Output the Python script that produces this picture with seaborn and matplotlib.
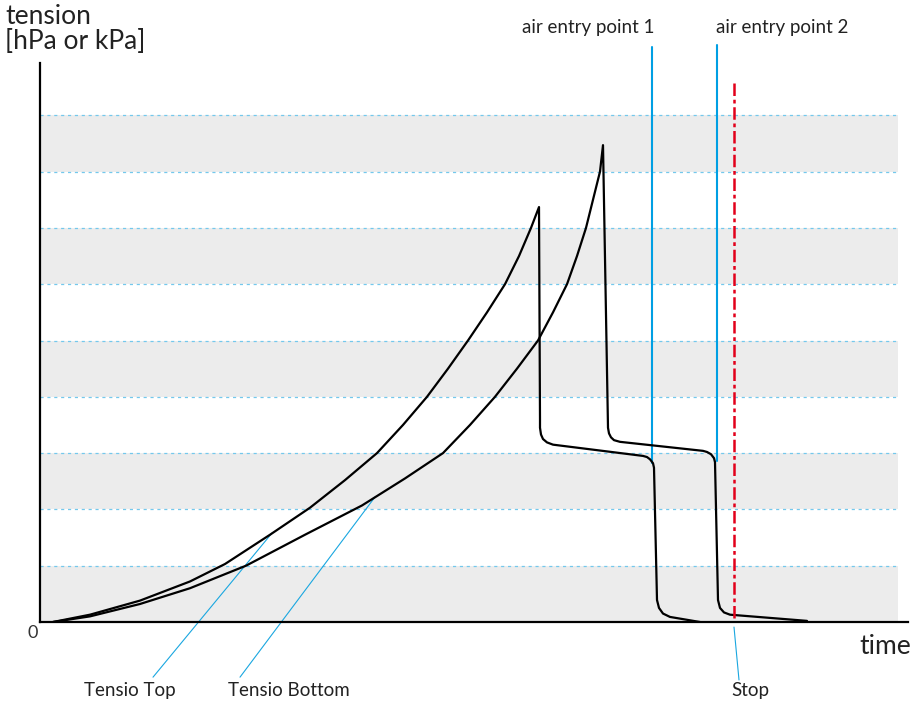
import numpy as np
import pandas as pd
import matplotlib.pyplot as plt
import seaborn as sns

# curves (time units, tension in band units)
top_t = [13, 50, 100, 150, 185, 230, 270, 305, 337, 363, 387, 408, 428, 447, 465, 479, 491, 499,
         500, 500, 501, 503, 507, 513, 603, 607, 610, 613, 614, 617, 619, 623, 630, 660]
top_v = [0.0, 0.13, 0.38, 0.72, 1.03, 1.55, 2.03, 2.52, 3.0, 3.5, 4.0, 4.5, 5.0, 5.5, 6.0, 6.5, 7.0, 7.37,
         3.60, 3.45, 3.33, 3.25, 3.19, 3.15, 2.95, 2.93, 2.89, 2.82, 2.74, 0.39, 0.25, 0.15, 0.09, 0.0]

bot_t = [13, 50, 100, 150, 206, 265, 322, 365, 403, 430, 455, 477, 498, 513, 527, 537, 546, 553, 560, 563,
         568, 569, 571, 574, 580, 663, 667, 671, 674, 675, 678, 680, 684, 690, 767]
bot_v = [0.0, 0.10, 0.32, 0.60, 1.0, 1.55, 2.07, 2.55, 3.0, 3.5, 4.0, 4.5, 5.0, 5.5, 6.0, 6.5, 7.0, 7.5, 8.0, 8.47,
         3.45, 3.35, 3.28, 3.23, 3.20, 3.04, 3.02, 2.98, 2.91, 2.84, 0.39, 0.25, 0.17, 0.13, 0.02]

air_x = [612, 677.5]
air_top = [10.21, 10.25]
air_bottom = [2.82, 2.86]
air_labels = ["air entry point 1", "air entry point 2"]
stop_x = 694
stop_top = 9.57

bands = [(0, 1), (2, 3), (4, 5), (6, 7), (8, 9)]
grid_levels = [1, 2, 3, 4, 5, 6, 7, 8, 9]

sns.set_style("white")
plt.rcParams['font.family'] = ['Lato', 'DejaVu Sans']

fig = plt.figure(figsize=(9.2, 7.04), dpi=100)
ax = fig.add_axes([40 / 920, 82 / 704, 868 / 920, 559 / 704])
ax.set_xlim(0, 868)
ax.set_ylim(0, 559 / 56.3)

for lo, hi in bands:
    ax.axhspan(lo, hi, xmin=0, xmax=858 / 868, color='#ececec', lw=0, zorder=0)
ax.hlines(grid_levels, 0, 858, colors='#74c8ec', linestyles=(0, (2.5, 3)), lw=0.9, zorder=1)

df = pd.concat([
    pd.DataFrame({"time": top_t, "tension": top_v, "sensor": "Tensio Top"}),
    pd.DataFrame({"time": bot_t, "tension": bot_v, "sensor": "Tensio Bottom"}),
])
sns.lineplot(data=df, x="time", y="tension", units="sensor", estimator=None, sort=False,
             color='black', lw=1.6, ax=ax, legend=False, zorder=4)

for x, y0, y1, lab, ha in zip(air_x, air_top, air_bottom, air_labels, ["right", "left"]):
    ax.plot([x, x], [y0, y1], color='#009fe3', lw=1.5, clip_on=False, zorder=3)
    tx = x + 3 if ha == "right" else x - 1
    ax.text(tx, 10.56, lab, ha=ha, va='center', fontsize=13.5, color='#222222', clip_on=False)

ax.plot([stop_x, stop_x], [stop_top, 0], color='#e2001a', lw=1.8,
        linestyle=(0, (5, 1.5, 1.5, 1.5)), zorder=5)

# pointer annotations below the axis
ax.plot([232, 113], [1.58, -0.98], color='#1aa7e0', lw=0.8, clip_on=False)
ax.plot([335, 200], [2.22, -0.98], color='#1aa7e0', lw=0.8, clip_on=False)
ax.plot([694, 699], [-0.09, -1.03], color='#1aa7e0', lw=0.8, clip_on=False)
ax.text(90, -1.21, "Tensio Top", ha='center', va='center', fontsize=13.5, color='#222222')
ax.text(249, -1.21, "Tensio Bottom", ha='center', va='center', fontsize=13.5, color='#222222')
ax.text(710, -1.21, "Stop", ha='center', va='center', fontsize=13.5, color='#222222')

ax.text(-7, -0.2, "0", ha='center', va='center', fontsize=13, color='#333333')
ax.text(871, -0.44, "time", ha='right', va='center', fontsize=19, color='#222222')
fig.text(5 / 920, 1 - 4 / 704, "tension\n[hPa or kPa]", ha='left', va='top',
         fontsize=19, color='#222222', linespacing=1.0)

ax.set_xticks([])
ax.set_yticks([])
ax.set_xlabel("")
ax.set_ylabel("")
for side in ["top", "right"]:
    ax.spines[side].set_visible(False)
for side in ["left", "bottom"]:
    ax.spines[side].set_color('black')
    ax.spines[side].set_linewidth(1.6)
    ax.spines[side].set_zorder(6)

fig.savefig("out.png", dpi=100)
plt.close(fig)
